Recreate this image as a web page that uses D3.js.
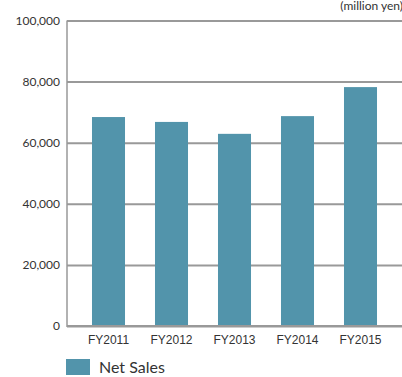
<!DOCTYPE html>
<html>
<head>
<meta charset="utf-8">
<script src="https://cdn.jsdelivr.net/npm/d3@7"></script>
<style>
  body { margin: 0; background: #fff; }
  svg { display: block; font-family: "Lato", "Open Sans", sans-serif; }
</style>
</head>
<body>
<svg id="chart"></svg>
<script>
// data
var years = ["FY2011", "FY2012", "FY2013", "FY2014", "FY2015"];
var netSales = [68400, 66800, 62900, 68700, 78200];
var yTicks = [0, 20000, 40000, 60000, 80000, 100000];

var svgWidth = 402, svgHeight = 377;
var barColor = "#5294ab", gridColor = "#999";

var svg = d3.select("#chart")
    .attr("width", svgWidth)
    .attr("height", svgHeight);

var x = d3.scaleBand()
    .domain(years)
    .range([77, 392])
    .paddingInner(0.476)
    .paddingOuter(0.238);

var y = d3.scaleLinear()
    .domain([0, 100000])
    .range([326, 20.5]);

// title, almost entirely cut off at the top edge
svg.append("text")
    .attr("x", 86)
    .attr("y", -0.5)
    .attr("fill", "#5cc3ea")
    .attr("font-size", 22)
    .attr("font-weight", "bold")
    .text("Net Sales");

svg.append("text")
    .attr("x", 403)
    .attr("y", 10)
    .attr("text-anchor", "end")
    .attr("fill", "#333")
    .attr("font-size", 12)
    .text("(million yen)");

// gridlines + y labels
var yAxis = d3.axisLeft(y)
    .tickValues(yTicks)
    .tickSize(-(svgWidth - 67))
    .tickPadding(7)
    .tickFormat(d3.format(","));

svg.append("g")
    .attr("transform", "translate(67,0)")
    .call(yAxis)
    .call(function(g) { g.select(".domain").remove(); })
    .call(function(g) {
        g.selectAll(".tick line").attr("stroke", gridColor).attr("stroke-width", 2);
        g.selectAll(".tick text").attr("fill", "#333").attr("font-size", 12)
            .attr("font-family", "Lato, 'Open Sans', sans-serif");
    });

// vertical axis line
svg.append("line")
    .attr("x1", 67).attr("x2", 67)
    .attr("y1", y(100000)).attr("y2", y(0) + 1)
    .attr("stroke", gridColor)
    .attr("stroke-width", 1.5);

// bars
svg.selectAll("rect.bar")
    .data(netSales)
    .enter()
    .append("rect")
    .attr("class", "bar")
    .attr("x", function(d, i) { return x(years[i]); })
    .attr("width", x.bandwidth())
    .attr("y", function(d) { return y(d); })
    .attr("height", function(d) { return y(0) - y(d); })
    .attr("fill", barColor);

// baseline over the bars
svg.append("line")
    .attr("x1", 67).attr("x2", svgWidth)
    .attr("y1", y(0)).attr("y2", y(0))
    .attr("stroke", gridColor)
    .attr("stroke-width", 2);

// x labels
var xAxis = d3.axisBottom(x).tickSize(0).tickPadding(9);
svg.append("g")
    .attr("transform", "translate(0," + y(0) + ")")
    .call(xAxis)
    .call(function(g) { g.select(".domain").remove(); })
    .call(function(g) {
        g.selectAll(".tick text").attr("fill", "#333").attr("font-size", 12)
            .attr("font-family", "'Liberation Sans', Arial, sans-serif");
    });

// legend
svg.append("rect")
    .attr("x", 66).attr("y", 359)
    .attr("width", 24).attr("height", 16)
    .attr("fill", barColor);

svg.append("text")
    .attr("x", 99)
    .attr("y", 373)
    .attr("fill", "#333")
    .attr("font-size", 16)
    .text("Net Sales");
</script>
</body>
</html>
